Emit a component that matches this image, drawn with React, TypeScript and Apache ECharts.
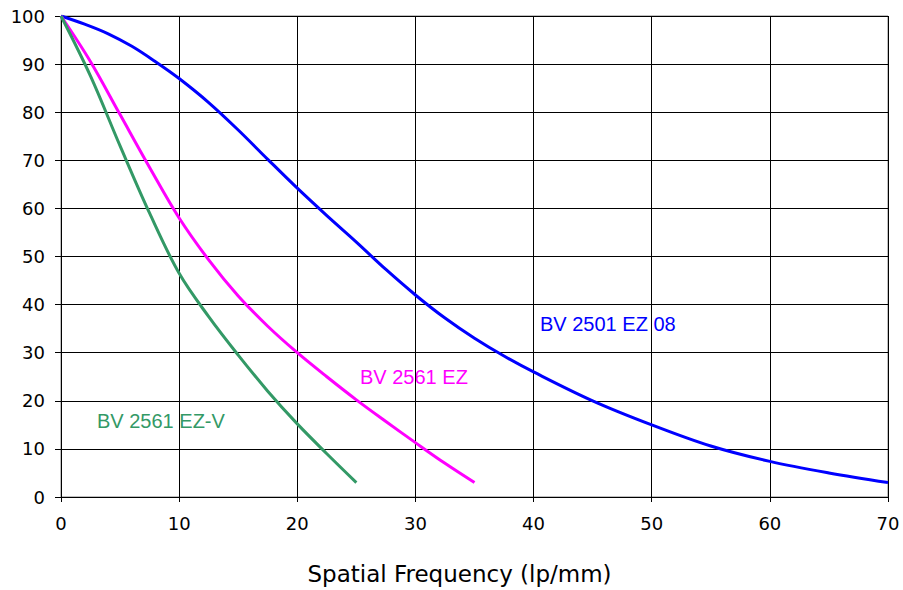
import React, { useEffect, useRef } from "react";
import * as echarts from "echarts";

const blueX = [0, 2, 4, 6, 8, 10, 12.5, 15, 17.5, 20, 22.5, 25, 27.5, 30, 32.5, 35, 37.5, 40, 45, 50, 55, 60, 65, 70];
const blueY = [100, 98.3, 96.3, 93.7, 90.5, 87, 82, 76.3, 70.2, 64.2, 58.5, 53, 47.3, 42, 37.2, 33, 29.3, 26, 20, 15, 10.6, 7.4, 5, 3];

const magentaX = [0, 2.5, 5, 7.5, 10, 12.5, 15, 17.5, 20, 22.5, 25, 27.5, 30, 32.5, 35];
const magentaY = [100, 90.5, 79.5, 68.5, 58, 49.3, 41.8, 35.5, 30, 25, 20.2, 15.7, 11.3, 7, 3];

const greenX = [0, 2.5, 5, 7.5, 10, 12.5, 15, 17.5, 20, 22.5, 25];
const greenY = [100, 87.5, 73, 59, 46.5, 37.5, 29.5, 22, 15.2, 9, 3];

const seriesNames = ["BV 2501 EZ 08", "BV 2561 EZ", "BV 2561 EZ-V"];
const seriesColors = ["#0000FF", "#FF00FF", "#339966"];
const xTitle = "Spatial Frequency (lp/mm)";

const pair = (xs: number[], ys: number[]) => xs.map((x, i) => [x, ys[i]]);

export default function App() {
  const ref = useRef<HTMLDivElement>(null);
  useEffect(() => {
    if (!ref.current) return;
    const chart = echarts.init(ref.current, null, { renderer: "svg" });
    const datasets = [pair(blueX, blueY), pair(magentaX, magentaY), pair(greenX, greenY)];
    const labelPos = [
      [540, 324],
      [360, 377],
      [97, 421],
    ];
    chart.setOption({
      animation: false,
      backgroundColor: "#ffffff",
      grid: {
        left: 61,
        right: 15,
        top: 16,
        bottom: 92.5,
        show: true,
        borderColor: "#808080",
        borderWidth: 1,
      },
      xAxis: {
        type: "value",
        min: 0,
        max: 70,
        interval: 10,
        name: xTitle,
        nameLocation: "middle",
        nameGap: 65,
        nameTextStyle: {
          fontFamily: "DejaVu Sans",
          fontSize: 23,
          color: "#000",
          padding: [0, 30, 0, 0],
        },
        axisLine: { show: true, onZero: false, lineStyle: { color: "#000", width: 1 } },
        axisTick: { show: true, length: 5, lineStyle: { color: "#000" } },
        axisLabel: { fontFamily: "DejaVu Sans", fontSize: 18, color: "#000", margin: 17 },
        splitLine: { show: true, lineStyle: { color: "#000", width: 1 } },
      },
      yAxis: {
        type: "value",
        min: 0,
        max: 100,
        interval: 10,
        axisLine: { show: true, onZero: false, lineStyle: { color: "#000", width: 1 } },
        axisTick: { show: true, length: 6, lineStyle: { color: "#000" } },
        axisLabel: { fontFamily: "DejaVu Sans", fontSize: 18, color: "#000", margin: 16 },
        splitLine: { show: true, lineStyle: { color: "#000", width: 1 } },
      },
      series: datasets.map((d, i) => ({
        name: seriesNames[i],
        type: "line",
        data: d,
        smooth: 0.35,
        showSymbol: false,
        symbol: "none",
        lineStyle: { color: seriesColors[i], width: 3 },
        itemStyle: { color: seriesColors[i] },
      })),
      graphic: seriesNames.map((n, i) => ({
        type: "text",
        x: labelPos[i][0],
        y: labelPos[i][1],
        style: {
          text: n,
          fill: seriesColors[i],
          fontFamily: "Liberation Sans, Arial, sans-serif",
          fontSize: 20,
          textAlign: "left",
          textVerticalAlign: "middle",
          verticalAlign: "middle",
        },
      })),
    });
    return () => chart.dispose();
  }, []);
  return (
    <div
      ref={ref}
      style={{ position: "fixed", left: 0, top: 0, width: 903, height: 590 }}
    />
  );
}
